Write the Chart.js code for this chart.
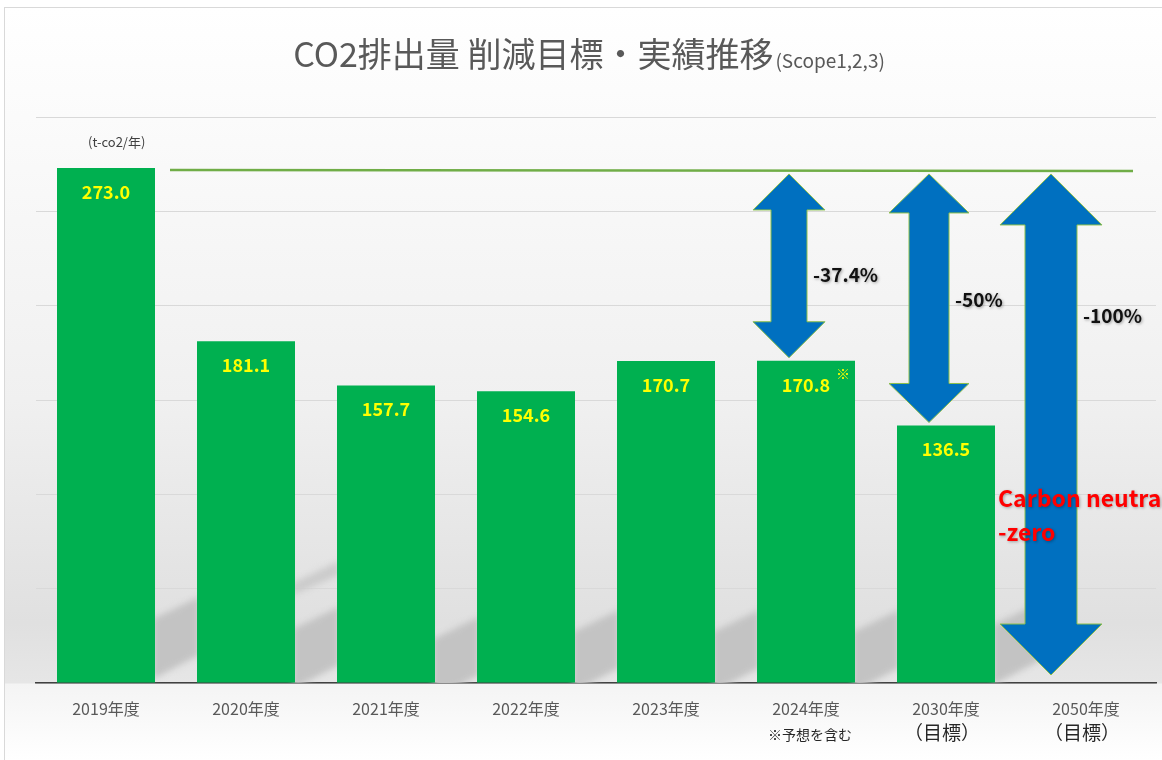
<!DOCTYPE html>
<html>
<head>
<meta charset="utf-8">
<script src="https://cdn.jsdelivr.net/npm/chart.js@4"></script>
<style>
  body { margin: 0; background: #fff; }
  canvas { display: block; }
</style>
</head>
<body>
<canvas id="myChart" width="1162" height="760"></canvas>
<script>
// data
const categories = ['2019年度', '2020年度', '2021年度', '2022年度', '2023年度', '2024年度', '2030年度', '2050年度'];
const subLabels = ['', '', '', '', '', '※予想を含む', '（目標）', '（目標）'];
const emissions = [273.0, 181.1, 157.7, 154.6, 170.7, 170.8, 136.5, null];
const valueLabels = ['273.0', '181.1', '157.7', '154.6', '170.7', '170.8', '136.5', ''];
const baseValue = 273.0;
const arrowCats = [5, 6, 7];
const arrowTargets = [170.8, 136.5, 0];
const arrowLabels = ['-37.4%', '-50%', '-100%'];
const yMax = 300;
const yStep = 50;

const FONT = "'Noto Sans CJK JP', 'Noto Sans', sans-serif";

// arrow shapes (px): offset from category centre, head width, shaft width, head length, label y
const arrowStyle = [
    { dx: -17, head: 72, shaft: 36, len: 36, labelY: 275 },
    { dx: -17, head: 80, shaft: 40, len: 39, labelY: 300 },
    { dx: -35, head: 102, shaft: 52, len: 51, labelY: 316 }
];
// decorative floor shadows between bars: px above the axis of the band's top-right corner
const shadowTops = [86, 76, 66, 73, 73, 73, 80];

const background = {
    id: 'background',
    beforeDraw(chart) {
        const { ctx, chartArea: a, width, height } = chart;
        ctx.save();
        ctx.fillStyle = '#fff';
        ctx.fillRect(0, 0, width, height);
        const g = ctx.createLinearGradient(0, 7, 0, height);
        const f = y => (y - 7) / (height - 7);
        g.addColorStop(0, '#ffffff');
        g.addColorStop(f(a.top), '#fbfbfb');
        g.addColorStop(f(a.top + (a.bottom - a.top) * 0.5), '#f0f0f0');
        g.addColorStop(f(a.bottom - 60), '#e0e0e0');
        g.addColorStop(f(a.bottom), '#e6e6e6');
        g.addColorStop(f(a.bottom + 1), '#f4f4f4');
        g.addColorStop(1, '#ffffff');
        ctx.fillStyle = g;
        ctx.fillRect(4, 7, width - 4, height - 7);
        ctx.strokeStyle = '#d9d9d9';
        ctx.lineWidth = 1;
        ctx.strokeRect(4.5, 7.5, width, height);

        // title
        ctx.fillStyle = '#595959';
        ctx.textBaseline = 'alphabetic';
        ctx.font = '34px ' + FONT;
        const main = 'CO2排出量 削減目標・実績推移';
        const sub = '(Scope1,2,3)';
        const w1 = ctx.measureText(main).width;
        ctx.font = '19px ' + FONT;
        const w2 = ctx.measureText(sub).width;
        const x0 = 588 - (w1 + w2) / 2;
        ctx.font = '34px ' + FONT;
        ctx.textAlign = 'left';
        ctx.fillText(main, x0, 67);
        ctx.font = '19px ' + FONT;
        ctx.fillText(sub, x0 + w1 + 2, 68);

        // unit
        ctx.fillStyle = '#404040';
        ctx.font = '13px ' + FONT;
        ctx.fillText('(t-co2/年)', 88, 147);
        ctx.restore();
    },
    beforeDatasetsDraw(chart) {
        // soft diagonal shadows on the floor between bars
        const { ctx, chartArea: a } = chart;
        const bars = chart.getDatasetMeta(0).data;
        ctx.save();
        ctx.beginPath();
        ctx.rect(a.left, a.top, a.right - a.left, a.bottom - a.top);
        ctx.clip();
        ctx.filter = 'blur(3px)';
        ctx.fillStyle = '#c3c3c3';
        for (let i = 0; i < 7; i++) {
            const xl = bars[i].x + bars[i].width / 2 - 2;
            const xr = xl + 46;
            const yt = a.bottom - shadowTops[i];
            ctx.beginPath();
            ctx.moveTo(xl, yt + 22);
            ctx.lineTo(xr, yt);
            ctx.lineTo(xr, yt + 58);
            ctx.lineTo(xl, yt + 82);
            ctx.closePath();
            ctx.fill();
        }
        // a faint upper band in the second gap
        const xl = bars[1].x + bars[1].width / 2 - 2;
        ctx.fillStyle = '#cbcbcb';
        ctx.beginPath();
        ctx.moveTo(xl, a.bottom - 100);
        ctx.lineTo(xl + 46, a.bottom - 122);
        ctx.lineTo(xl + 46, a.bottom - 108);
        ctx.lineTo(xl, a.bottom - 88);
        ctx.closePath();
        ctx.fill();
        ctx.restore();
    }
};

const overlay = {
    id: 'overlay',
    afterDatasetsDraw(chart) {
        const { ctx, chartArea: a } = chart;
        const xs = chart.scales.x;
        const ys = chart.scales.y;
        const bars = chart.getDatasetMeta(0).data;
        ctx.save();

        // value labels inside bars
        ctx.fillStyle = '#ffff00';
        ctx.font = 'bold 18px ' + FONT;
        ctx.textAlign = 'center';
        ctx.textBaseline = 'middle';
        valueLabels.forEach((t, i) => {
            if (!t) return;
            ctx.fillText(t, bars[i].x, bars[i].y + 24);
        });
        // ※ next to the 2024 value
        ctx.font = '14px ' + FONT;
        ctx.fillText('※', bars[5].x + 37, bars[5].y + 13);

        // base line
        const yBase = ys.getPixelForValue(baseValue) + 2;
        ctx.strokeStyle = '#70ad47';
        ctx.lineWidth = 2.5;
        ctx.beginPath();
        ctx.moveTo(xs.getPixelForValue(0) + 64, yBase);
        ctx.lineTo(xs.getPixelForValue(7) + 47, yBase + 1);
        ctx.stroke();

        // double arrows
        arrowCats.forEach((c, k) => {
            const s = arrowStyle[k];
            const cx = xs.getPixelForValue(c) + s.dx;
            const top = ys.getPixelForValue(baseValue) + 6;
            const bot = ys.getPixelForValue(arrowTargets[k]) - (arrowTargets[k] === 0 ? 8 : 3);
            const hh = s.head / 2, hs = s.shaft / 2;
            ctx.beginPath();
            ctx.moveTo(cx, top);
            ctx.lineTo(cx + hh, top + s.len);
            ctx.lineTo(cx + hs, top + s.len);
            ctx.lineTo(cx + hs, bot - s.len);
            ctx.lineTo(cx + hh, bot - s.len);
            ctx.lineTo(cx, bot);
            ctx.lineTo(cx - hh, bot - s.len);
            ctx.lineTo(cx - hs, bot - s.len);
            ctx.lineTo(cx - hs, top + s.len);
            ctx.lineTo(cx - hh, top + s.len);
            ctx.closePath();
            ctx.fillStyle = '#0070c0';
            ctx.fill();
            ctx.strokeStyle = '#8cbf4a';
            ctx.lineWidth = 1;
            ctx.stroke();

            // percentage label
            ctx.save();
            ctx.shadowColor = 'rgba(0,0,0,0.35)';
            ctx.shadowBlur = 3;
            ctx.shadowOffsetX = 1;
            ctx.shadowOffsetY = 1;
            ctx.fillStyle = '#111';
            ctx.font = 'bold 19px ' + FONT;
            ctx.textAlign = 'left';
            ctx.fillText(arrowLabels[k], cx + hs + 6, s.labelY);
            ctx.restore();
        });

        // carbon neutral note
        ctx.save();
        ctx.shadowColor = 'rgba(0,0,0,0.3)';
        ctx.shadowBlur = 3;
        ctx.shadowOffsetX = 1;
        ctx.shadowOffsetY = 1;
        ctx.fillStyle = '#ff0000';
        ctx.font = 'bold 23px ' + FONT;
        ctx.textAlign = 'left';
        const nx = xs.getPixelForValue(6) + 52;
        ctx.fillText('Carbon neutral', nx, 498);
        ctx.fillText('-zero', nx, 532);
        ctx.restore();

        // category labels
        ctx.textAlign = 'center';
        ctx.textBaseline = 'middle';
        categories.forEach((t, i) => {
            const x = xs.getPixelForValue(i);
            ctx.fillStyle = '#595959';
            ctx.font = '16px ' + FONT;
            ctx.fillText(t, x, a.bottom + 26);
            const s = subLabels[i];
            if (s) {
                const big = s.startsWith('（');
                ctx.fillStyle = '#262626';
                ctx.font = (big ? '19px ' : '14px ') + FONT;
                ctx.fillText(s, x + (big ? -4 : 4), a.bottom + (big ? 50 : 52));
            }
        });
        ctx.restore();
    }
};

new Chart(document.getElementById('myChart'), {
    type: 'bar',
    data: {
        labels: categories,
        datasets: [{
            data: emissions,
            backgroundColor: '#00b050',
            categoryPercentage: 1,
            barPercentage: 0.7
        }]
    },
    options: {
        responsive: false,
        animation: false,
        layout: { padding: { left: 36, right: 6, top: 117, bottom: 77 } },
        plugins: { legend: { display: false }, tooltip: { enabled: false } },
        scales: {
            x: {
                grid: { display: false, drawTicks: false },
                ticks: { display: false },
                border: { display: true, color: '#404040', width: 1.5 }
            },
            y: {
                min: 0,
                max: yMax,
                ticks: { display: false, stepSize: yStep },
                grid: { color: '#d9d9d9', drawTicks: false },
                border: { display: false }
            }
        }
    },
    plugins: [background, overlay]
});
</script>
</body>
</html>
